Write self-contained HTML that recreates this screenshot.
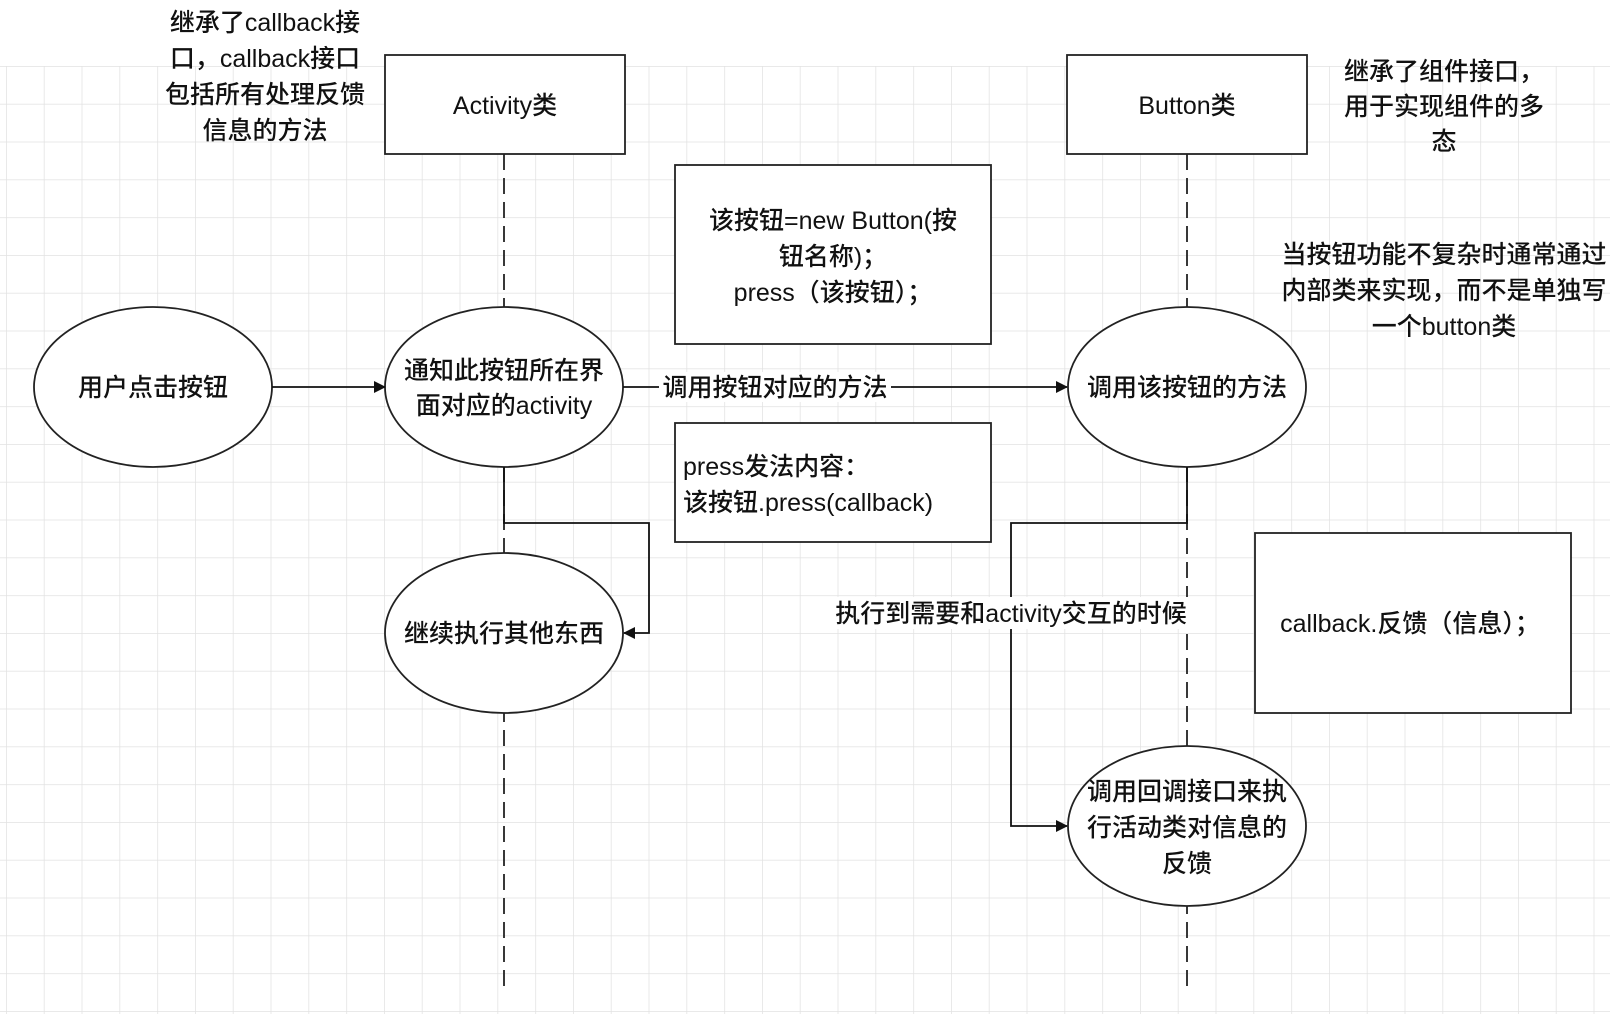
<!DOCTYPE html>
<html><head><meta charset="utf-8"><style>
html,body{margin:0;padding:0;background:#fff;}
svg{display:block;}
text{font-family:"Liberation Sans","Noto Sans CJK SC",sans-serif;font-size:25px;fill:#111;font-weight:500;}
</style></head><body>
<svg width="1624" height="1014" viewBox="0 0 1624 1014" xmlns="http://www.w3.org/2000/svg">
<defs>
<pattern id="g" x="6" y="66" width="37.8" height="37.8" patternUnits="userSpaceOnUse">
<path d="M0 0H37.8M0 0V37.8" stroke="#e2e2e2" stroke-width="1.5" fill="none"/>
</pattern>
<marker id="a" markerWidth="12" markerHeight="12" refX="11" refY="6" orient="auto" markerUnits="userSpaceOnUse">
<path d="M0 0L12 6L0 12Z" fill="#111"/>
</marker>
</defs>
<rect x="0" y="66" width="1610" height="948" fill="url(#g)"/>
<line x1="504" y1="154" x2="504" y2="990" stroke="#222" stroke-width="1.8" stroke-dasharray="16 8"/>
<line x1="1187" y1="154" x2="1187" y2="990" stroke="#222" stroke-width="1.8" stroke-dasharray="16 8"/>
<g fill="#fff" stroke="#222" stroke-width="1.8">
<rect x="385" y="55" width="240" height="99"/>
<rect x="1067" y="55" width="240" height="99"/>
<rect x="675" y="165" width="316" height="179"/>
<rect x="675" y="423" width="316" height="119"/>
<rect x="1255" y="533" width="316" height="180"/>
<ellipse cx="153" cy="387" rx="119" ry="80"/>
<ellipse cx="504" cy="387" rx="119" ry="80"/>
<ellipse cx="1187" cy="387" rx="119" ry="80"/>
<ellipse cx="504" cy="633" rx="119" ry="80"/>
<ellipse cx="1187" cy="826" rx="119" ry="80"/>
</g>
<g fill="none" stroke="#111" stroke-width="1.8">
<line x1="272" y1="387" x2="385" y2="387" marker-end="url(#a)"/>
<line x1="623" y1="387" x2="1067" y2="387" marker-end="url(#a)"/>
<polyline points="504,467 504,523 649,523 649,633 624,633" marker-end="url(#a)"/>
<polyline points="1187,467 1187,523 1011,523 1011,826 1067,826" marker-end="url(#a)"/>
</g>
<rect x="659" y="372" width="232" height="30" fill="#fff"/>
<rect x="822" y="597" width="378" height="32" fill="#fff"/>
<g text-anchor="middle">
<text x="265" y="31">继承了callback接</text>
<text x="265" y="67">口，callback接口</text>
<text x="265" y="103">包括所有处理反馈</text>
<text x="265" y="139">信息的方法</text>
<text x="505" y="114">Activity类</text>
<text x="1187" y="114">Button类</text>
<text x="1444" y="80">继承了组件接口，</text>
<text x="1444" y="115">用于实现组件的多</text>
<text x="1444" y="150">态</text>
<text x="1444" y="263">当按钮功能不复杂时通常通过</text>
<text x="1444" y="299">内部类来实现，而不是单独写</text>
<text x="1444" y="335">一个button类</text>
<text x="833" y="229">该按钮=new Button(按</text>
<text x="833" y="265">钮名称)；</text>
<text x="833" y="301">press（该按钮）；</text>
<text x="153" y="396">用户点击按钮</text>
<text x="504" y="379">通知此按钮所在界</text>
<text x="504" y="414">面对应的activity</text>
<text x="775" y="396">调用按钮对应的方法</text>
<text x="1187" y="396">调用该按钮的方法</text>
<text x="504" y="642">继续执行其他东西</text>
<text x="1011" y="622">执行到需要和activity交互的时候</text>
<text x="1187" y="800">调用回调接口来执</text>
<text x="1187" y="836">行活动类对信息的</text>
<text x="1187" y="872">反馈</text>
<text x="1410" y="632">callback.反馈（信息）；</text>
</g>
<text x="683" y="475">press发法内容：</text>
<text x="683" y="511">该按钮.press(callback)</text>
</svg>
</body></html>
